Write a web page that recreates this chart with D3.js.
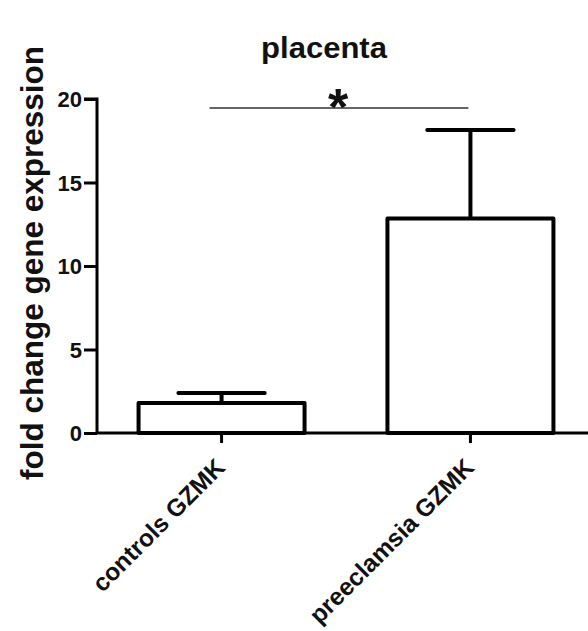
<!DOCTYPE html>
<html>
<head>
    <meta charset='utf-8'>
</head>
<style>
    body { margin: 0; background: #fff; }
    * { font-family: Arial, 'Liberation Sans', sans-serif; }
</style>
<body>
    <svg width="588" height="631"></svg>
    <script src="https://d3js.org/d3.v7.min.js"></script>
    <script>
        // data
        var categories = ["controls GZMK", "preeclamsia GZMK"];
        var means = [1.8, 12.85];
        var errors = [0.6, 5.3];
        var yTicks = [0, 5, 10, 15, 20];
        var sigPair = ["controls GZMK", "preeclamsia GZMK"];

        var svg = d3.select('svg');
        var padL = 97, padT = 99, axisY = 433, padR = 588;

        var x = d3.scaleBand()
            .domain(categories)
            .range([padL, 595])
            .paddingInner(0.333)
            .paddingOuter(0.167);
        var y = d3.scaleLinear().domain([0, 20]).range([axisY, padT]);

        // title
        svg.append('text')
            .attr('transform', 'translate(324,58) scale(1.07,1)')
            .attr('text-anchor', 'middle')
            .style('font-size', '29px').style('font-weight', 'bold')
            .attr('fill', '#111')
            .text('placenta');

        // y axis label
        svg.append('text')
            .attr('transform', 'translate(43,263) rotate(-90)')
            .attr('text-anchor', 'middle')
            .style('font-size', '31.5px').style('font-weight', 'bold')
            .attr('fill', '#111')
            .text('fold change gene expression');

        // y axis
        var yAxis = svg.append('g')
            .attr('transform', 'translate(' + padL + ',0)')
            .call(d3.axisLeft(y).tickValues(yTicks).tickSize(13).tickPadding(2));
        yAxis.select('.domain').attr('stroke-width', 3).attr('d', 'M-13,' + padT + 'H0V' + axisY);
        yAxis.selectAll('.tick line').attr('stroke-width', 3);
        yAxis.selectAll('.tick text')
            .attr('dy', '0.36em')
            .style('font-size', '22px').style('font-weight', 'bold').attr('fill', '#111');

        // x axis
        var xAxis = svg.append('g')
            .attr('transform', 'translate(0,' + axisY + ')')
            .call(d3.axisBottom(x).tickSize(10).tickSizeOuter(0));
        xAxis.select('.domain').attr('stroke-width', 3).attr('d', 'M' + padL + ',0H' + padR);
        xAxis.selectAll('.tick line').attr('stroke-width', 3);
        xAxis.selectAll('.tick text')
            .style('font-size', '24.5px').style('font-weight', 'bold').attr('fill', '#111')
            .attr('text-anchor', 'end')
            .attr('y', 0).attr('dy', 0)
            .attr('transform', 'translate(5,36) rotate(-45)');

        // error bars (upper only)
        var errG = svg.append('g');
        categories.forEach(function(c, i) {
            var cx = x(c) + x.bandwidth() / 2;
            errG.append('line')
                .attr('x1', cx).attr('x2', cx)
                .attr('y1', y(means[i])).attr('y2', y(means[i] + errors[i]))
                .attr('stroke', '#000').attr('stroke-width', 4);
            errG.append('line')
                .attr('x1', cx - x.bandwidth() * 0.26).attr('x2', cx + x.bandwidth() * 0.26)
                .attr('y1', y(means[i] + errors[i])).attr('y2', y(means[i] + errors[i]))
                .attr('stroke', '#000').attr('stroke-width', 4).attr('stroke-linecap', 'round');
        });

        // bars
        svg.append('g').selectAll('rect')
            .data(categories)
            .enter().append('rect')
            .attr('x', function(d) { return x(d); })
            .attr('y', function(d, i) { return y(means[i]); })
            .attr('width', x.bandwidth())
            .attr('height', function(d, i) { return axisY - y(means[i]); })
            .attr('fill', '#fff')
            .attr('stroke', '#000')
            .attr('stroke-width', 4)
            .attr('stroke-linejoin', 'round');

        // significance bar
        var sx1 = x(sigPair[0]) + x.bandwidth() / 2 - 12,
            sx2 = x(sigPair[1]) + x.bandwidth() / 2 - 2;
        var sy = y(19.46);
        svg.append('line')
            .attr('x1', sx1).attr('x2', sx2)
            .attr('y1', sy).attr('y2', sy)
            .attr('stroke', '#333').attr('stroke-width', 1.5);
        svg.append('text')
            .attr('x', (sx1 + sx2) / 2 - 1).attr('y', sy + 17)
            .attr('text-anchor', 'middle')
            .style('font-size', '52px').style('font-weight', 'bold')
            .attr('fill', '#111')
            .text('*');
    </script>
</body>
</html>
